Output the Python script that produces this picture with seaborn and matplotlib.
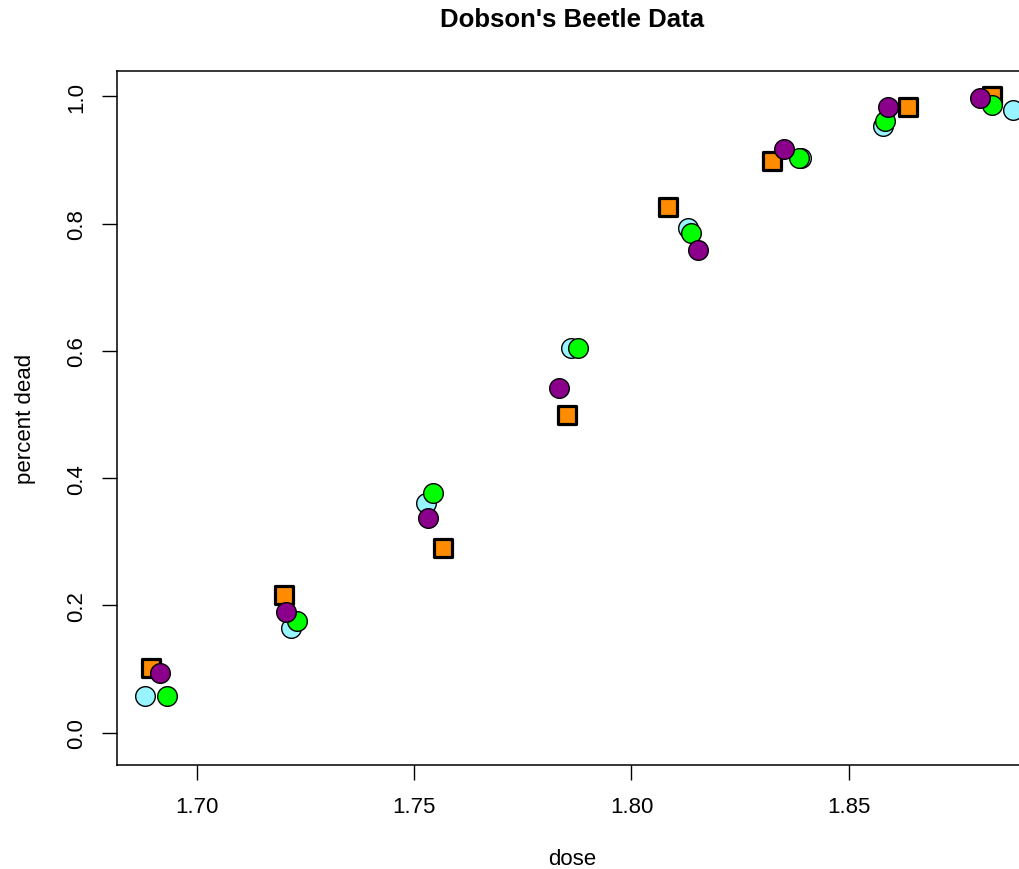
import matplotlib
matplotlib.use("Agg")
import matplotlib.pyplot as plt
import seaborn as sns

# Observed proportions (dead / exposed) with jittered doses
obs_dose = [1.6895, 1.7201, 1.7567, 1.7852, 1.8084, 1.8324, 1.8637, 1.8830]
obs_prop = [0.1017, 0.2167, 0.2903, 0.5000, 0.8254, 0.8983, 0.9839, 1.0000]

# Three simulated replicates
sim1_dose = [1.6881, 1.7217, 1.7528, 1.7862, 1.8131, 1.8391, 1.8579, 1.8878]
sim1_prop = [0.058, 0.164, 0.361, 0.604, 0.793, 0.903, 0.954, 0.978]

sim2_dose = [1.6932, 1.7231, 1.7544, 1.7876, 1.8136, 1.8386, 1.8584, 1.8830]
sim2_prop = [0.057, 0.176, 0.377, 0.604, 0.786, 0.903, 0.961, 0.986]

sim3_dose = [1.6916, 1.7206, 1.7533, 1.7834, 1.8152, 1.8350, 1.8591, 1.8802]
sim3_prop = [0.094, 0.189, 0.338, 0.542, 0.758, 0.917, 0.984, 0.998]

x_ticks = [1.70, 1.75, 1.80, 1.85]
y_ticks = [0.0, 0.2, 0.4, 0.6, 0.8, 1.0]

sns.set_style("ticks")
plt.rcParams["font.family"] = ["Liberation Sans", "DejaVu Sans"]
plt.rcParams["text.color"] = "black"
plt.rcParams["axes.labelcolor"] = "black"

fig = plt.figure(figsize=(10.19, 8.70), dpi=100)
ax = fig.add_axes([0.1151, 0.1199, 0.8927, 0.7977])

ax.set_xlim(1.6817, 1.8910)
ax.set_ylim(-0.0504, 1.0404)

circle_kw = dict(marker="o", s=200, edgecolor="black", linewidth=1.0, zorder=3)

sns.scatterplot(x=obs_dose, y=obs_prop, ax=ax, marker="s", s=150,
                color="#FF8C00", edgecolor="black", linewidth=2.3, zorder=3)
sns.scatterplot(x=sim1_dose, y=sim1_prop, ax=ax, color="#98F5FF", **circle_kw)
sns.scatterplot(x=sim2_dose, y=sim2_prop, ax=ax, color="#00FF00", **circle_kw)
sns.scatterplot(x=sim3_dose, y=sim3_prop, ax=ax, color="#8B008B", **circle_kw)

ax.set_xticks(x_ticks)
ax.set_xticklabels([f"{t:.2f}" for t in x_ticks])
ax.set_yticks(y_ticks)
ax.set_yticklabels([f"{t:.1f}" for t in y_ticks], rotation=90, va="center")

ax.tick_params(axis="both", direction="out", length=10.5, width=1.0,
               labelsize=16, colors="black")
ax.tick_params(axis="x", pad=12)
ax.tick_params(axis="y", pad=11)

for sp in ax.spines.values():
    sp.set_visible(True)
    sp.set_linewidth(1.1)
    sp.set_color("black")

ax.set_title("Dobson's Beetle Data", fontsize=18.5, fontweight="bold",
             pad=32, color="black")
ax.set_xlabel("dose", fontsize=16, va="baseline", color="black")
ax.xaxis.set_label_coords(0.5, -0.1435)
ax.set_ylabel("percent dead", fontsize=16, va="center", color="black")
ax.yaxis.set_label_coords(-0.1004, 0.5)

fig.savefig("out.png", dpi=100)
